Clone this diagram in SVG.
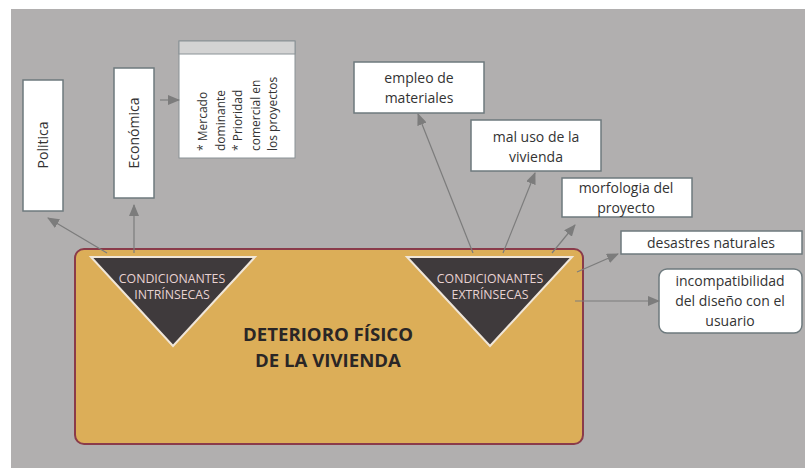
<svg xmlns="http://www.w3.org/2000/svg" width="805" height="468" viewBox="0 0 805 468">
<style>
.box{fill:#fff;stroke:#6e7a7e;stroke-width:1.5}
.t{font-family:"Open Sans","Liberation Sans",sans-serif;font-size:14px;fill:#333;text-anchor:middle}
.tv{font-family:"Open Sans","Liberation Sans",sans-serif;font-size:12px;fill:#333}
.tri{fill:#3f3a3c;stroke:#f0e6d8;stroke-width:2}
.tt{font-family:"Open Sans","Liberation Sans",sans-serif;font-size:12.3px;fill:#e9d3d3;text-anchor:middle}
.c{stroke:#7c7c7c;stroke-width:1.2;fill:none;marker-end:url(#ah)}
</style>
<defs>
<marker id="ah" viewBox="0 0 12 10" refX="11" refY="5" markerWidth="12" markerHeight="10" markerUnits="userSpaceOnUse" orient="auto">
<path d="M0,0 L12,5 L0,10 Z" fill="#7c7c7c"/>
</marker>
</defs>
<rect x="0" y="0" width="805" height="468" fill="#fff"/>
<rect x="11" y="9" width="794" height="459" fill="#b1afaf"/>
<g id="main">
<rect x="75" y="249" width="508" height="195" rx="9" fill="#dcae58" stroke="#8a3b4a" stroke-width="2"/>
<text x="328" y="341" font-family="'Open Sans','Liberation Sans',sans-serif" font-size="18.6" font-weight="bold" fill="#2a2626" text-anchor="middle">DETERIORO FÍSICO</text>
<text x="328" y="367" font-family="'Open Sans','Liberation Sans',sans-serif" font-size="18.6" font-weight="bold" fill="#2a2626" text-anchor="middle">DE LA VIVIENDA</text>
</g>
<g id="intrinsecas">
<polygon class="tri" points="91,257 255,257 173,346"/>
<text class="tt" x="172" y="283">CONDICIONANTES</text>
<text class="tt" x="172" y="299">INTRÍNSECAS</text>
</g>
<g id="extrinsecas">
<polygon class="tri" points="407,257 572,257 490,346"/>
<text class="tt" x="490" y="283">CONDICIONANTES</text>
<text class="tt" x="490" y="299">EXTRÍNSECAS</text>
</g>
<g id="politica">
<rect class="box" x="23" y="80" width="40" height="131"/>
<text class="t" transform="translate(48,145) rotate(-90)">Politica</text>
</g>
<g id="economica">
<rect class="box" x="114" y="68" width="40" height="130"/>
<text class="t" transform="translate(139,133) rotate(-90)">Económica</text>
</g>
<g id="mercado">
<rect x="179" y="41" width="116" height="117" fill="#fff" stroke="#8a9296" stroke-width="1"/>
<rect x="179" y="41" width="116" height="13" fill="#d3d3d3" stroke="#8a9296" stroke-width="1"/>
<text class="tv" transform="translate(207,151) rotate(-90)">* Mercado</text>
<text class="tv" transform="translate(225,151) rotate(-90)">dominante</text>
<text class="tv" transform="translate(242,151) rotate(-90)">* Prioridad</text>
<text class="tv" transform="translate(260,151) rotate(-90)">comercial en</text>
<text class="tv" transform="translate(277,151) rotate(-90)">los proyectos</text>
</g>
<g id="empleo">
<rect class="box" x="354" y="62" width="130" height="51"/>
<text class="t" x="419" y="83">empleo de</text>
<text class="t" x="419" y="103">materiales</text>
</g>
<g id="maluso">
<rect class="box" x="471" y="120" width="130" height="51"/>
<text class="t" x="536" y="142">mal uso de la</text>
<text class="t" x="536" y="162">vivienda</text>
</g>
<g id="morfologia">
<rect class="box" x="562" y="178" width="130" height="39"/>
<text class="t" x="626" y="193">morfologia del</text>
<text class="t" x="626" y="213">proyecto</text>
</g>
<g id="desastres">
<rect class="box" x="621" y="231" width="181" height="23"/>
<text class="t" x="711" y="248">desastres naturales</text>
</g>
<g id="incompatibilidad">
<rect class="box" x="659" y="269" width="143" height="64" rx="8"/>
<text class="t" x="730" y="286">incompatibilidad</text>
<text class="t" x="730" y="306">del diseño con el</text>
<text class="t" x="730" y="326">usuario</text>
</g>
<g id="connectors">
<line class="c" x1="107" y1="253" x2="48" y2="218"/>
<line class="c" x1="134" y1="253" x2="134" y2="205"/>
<line class="c" x1="160" y1="100" x2="179" y2="100"/>
<line class="c" x1="473" y1="253" x2="418" y2="114"/>
<line class="c" x1="503" y1="253" x2="535" y2="173"/>
<line class="c" x1="552" y1="253" x2="575" y2="225"/>
<line class="c" x1="577" y1="272" x2="618" y2="254"/>
<line class="c" x1="575" y1="301" x2="659" y2="301"/>
</g>
</svg>
